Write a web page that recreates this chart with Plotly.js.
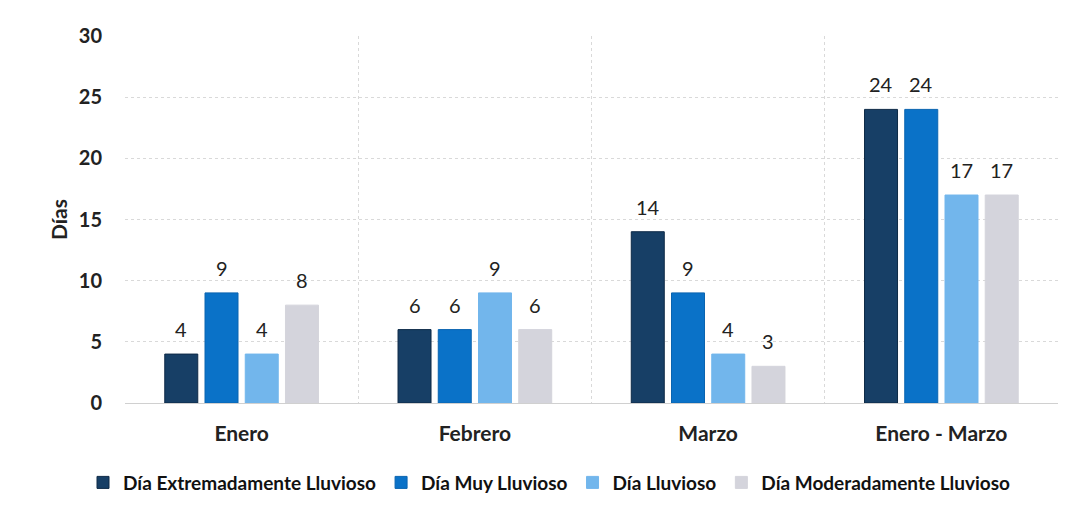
<!DOCTYPE html>
<html>
<head>
<meta charset="utf-8">
<script src="https://cdn.plot.ly/plotly-3.0.1.min.js"></script>
<style>html,body{margin:0;padding:0;background:#fff;}#chart{width:1072px;height:515px;}</style>
</head>
<body>
<div id="chart"></div>
<script>
const categories = ["Enero", "Febrero", "Marzo", "Enero - Marzo"];
const seriesNames = ["Día Extremadamente Lluvioso", "Día Muy Lluvioso", "Día Lluvioso", "Día Moderadamente Lluvioso"];
const extremo = [4, 6, 14, 24];
const muy = [9, 6, 9, 24];
const lluvioso = [4, 9, 4, 17];
const moderado = [8, 6, 3, 17];
const yTicks = [0, 5, 10, 15, 20, 25, 30];

const colors = ["#173F66", "#0A72C8", "#72B6EC", "#D4D4DC"];
const lines = ["#0E2A47", "#0A64B0", "#72B6EC", "#D4D4DC"];
const allSeries = [extremo, muy, lluvioso, moderado];
const FONT = "Lato, 'Open Sans', sans-serif";
const BARGAP = 0.31;

const traces = allSeries.map((vals, i) => ({
  type: "bar",
  name: seriesNames[i],
  x: categories,
  y: vals,
  marker: {color: colors[i], line: {color: lines[i], width: 1}},
  hoverinfo: "skip"
}));

// value labels placed on the axis via category index + group slot offset
const slot = (1 - BARGAP) / allSeries.length;
const annotations = [];
allSeries.forEach((vals, j) => {
  vals.forEach((v, ci) => {
    annotations.push({
      xref: "x", yref: "y",
      x: ci + (j - (allSeries.length - 1) / 2) * slot,
      y: v,
      text: String(v),
      showarrow: false,
      xanchor: "center", yanchor: "bottom",
      yshift: 11,
      font: {family: FONT, size: 20, color: "#222"}
    });
  });
});

const layout = {
  width: 1072, height: 515,
  margin: {l: 125, r: 14, t: 36, b: 112},
  paper_bgcolor: "#fff", plot_bgcolor: "#fff",
  font: {family: FONT, color: "#222"},
  barmode: "group",
  bargap: BARGAP,
  bargroupgap: 0.18,
  showlegend: true,
  annotations: annotations,
  legend: {
    orientation: "h", x: 0.455, xanchor: "center",
    y: -0.165, yanchor: "top",
    font: {size: 19, color: "#111", weight: "bold", family: FONT},
    itemwidth: 30, tracegroupgap: 0
  },
  xaxis: {
    type: "category",
    automargin: false,
    tickson: "boundaries",
    showgrid: true, gridcolor: "#d9d9d9", griddash: "dot", gridwidth: 1,
    ticks: "", showline: true, linecolor: "#d0d0d0",
    tickfont: {size: 21, weight: "bold", color: "#222"},
    ticklabelstandoff: 12
  },
  yaxis: {
    automargin: false,
    range: [0, 30],
    tickvals: yTicks,
    showgrid: true, gridcolor: "#d9d9d9", griddash: "dot", gridwidth: 1,
    zeroline: false, showline: false, ticks: "",
    tickfont: {size: 20, weight: "bold", color: "#222"},
    ticklabelstandoff: 22,
    title: {text: "Días", font: {size: 21, weight: "bold", color: "#222"}, standoff: 5}
  }
};

Plotly.newPlot("chart", traces, layout, {displayModeBar: false, staticPlot: true});
</script>
</body>
</html>
